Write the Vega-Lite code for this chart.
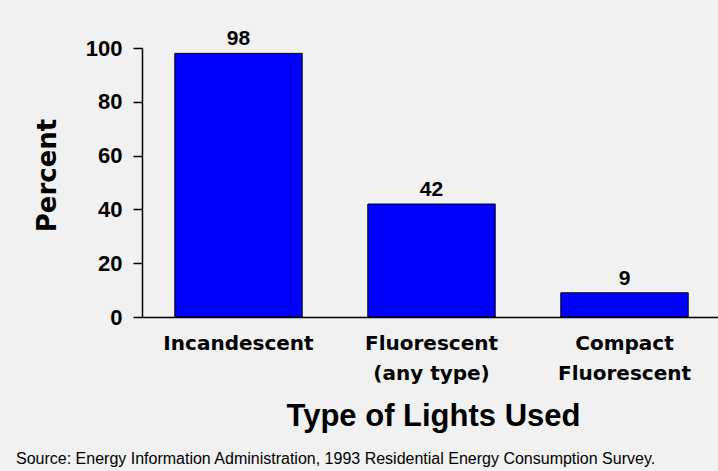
{
  "$schema": "https://vega.github.io/schema/vega-lite/v6.json",
  "width": 579,
  "height": 269,
  "autosize": "none",
  "padding": {"left": 142, "top": 48, "right": 0, "bottom": 154},
  "background": "#f1f1f1",
  "config": {"view": {"stroke": null}},
  "title": {
    "text": "Source: Energy Information Administration, 1993 Residential Energy Consumption Survey.",
    "orient": "bottom",
    "anchor": "start",
    "frame": "group",
    "dx": -126,
    "offset": 20,
    "baseline": "top",
    "font": "Liberation Sans",
    "fontSize": 16,
    "fontWeight": "normal",
    "color": "black"
  },
  "data": {
    "values": [
      {"type": "Incandescent", "percent": 98},
      {"type": "Fluorescent|(any type)", "percent": 42},
      {"type": "Compact|Fluorescent", "percent": 9}
    ]
  },
  "encoding": {
    "x": {
      "field": "type",
      "type": "nominal",
      "sort": null,
      "scale": {"paddingInner": 0.34, "paddingOuter": 0.17},
      "axis": {
        "title": "Type of Lights Used",
        "labelExpr": "split(datum.label, '|')",
        "labelAngle": 0,
        "ticks": false,
        "tickSize": 0,
        "labelPadding": 16,
        "labelLineHeight": 30,
        "labelFont": "DejaVu Sans",
        "labelFontSize": 20,
        "labelFontWeight": "bold",
        "labelColor": "black",
        "domainColor": "black",
        "domainWidth": 1.5,
        "titleFont": "Liberation Sans",
        "titleFontSize": 31,
        "titleFontWeight": "bold",
        "titleColor": "black",
        "titleBaseline": "alphabetic",
        "titleY": 108,
        "titleX": 291
      }
    },
    "y": {
      "field": "percent",
      "type": "quantitative",
      "scale": {"domain": [0, 100], "nice": false},
      "axis": {
        "title": "Percent",
        "values": [0, 20, 40, 60, 80, 100],
        "grid": false,
        "domainColor": "black",
        "domainWidth": 1.5,
        "tickColor": "black",
        "tickWidth": 1.5,
        "tickSize": 9,
        "labelPadding": 11,
        "labelFont": "Liberation Sans",
        "labelFontSize": 22,
        "labelFontWeight": "bold",
        "labelColor": "black",
        "titleFont": "DejaVu Sans",
        "titleFontSize": 26,
        "titleFontWeight": "bold",
        "titleColor": "black",
        "titleBaseline": "alphabetic",
        "titleAngle": 270,
        "titleX": -87,
        "titleY": 127
      }
    }
  },
  "layer": [
    {
      "mark": {"type": "bar", "color": "#0000ff", "stroke": "black", "strokeWidth": 1}
    },
    {
      "mark": {
        "type": "text",
        "baseline": "alphabetic",
        "dy": -8,
        "font": "Liberation Sans",
        "fontSize": 21,
        "fontWeight": "bold",
        "color": "black"
      },
      "encoding": {"text": {"field": "percent", "type": "quantitative"}}
    }
  ]
}
